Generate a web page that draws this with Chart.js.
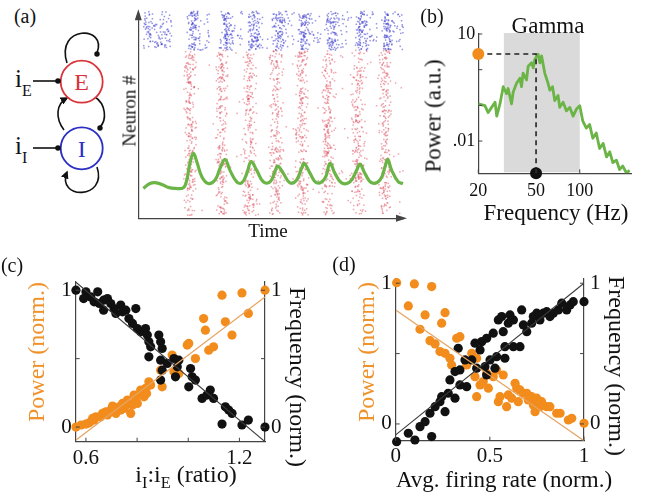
<!DOCTYPE html>
<html><head><meta charset="utf-8">
<script src="https://cdn.jsdelivr.net/npm/chart.js@4.4.0/dist/chart.umd.min.js"></script>
<style>
html,body{margin:0;padding:0;background:#fff;}
#fig{position:relative;width:651px;height:500px;overflow:hidden;font-family:"Liberation Serif","Times New Roman",serif;color:#111;}
canvas{position:absolute;}
.t{position:absolute;white-space:nowrap;line-height:1;transform:translate(-50%,-50%);}
.rl{transform:translate(-50%,-50%) rotate(-90deg);}
.rr{transform:translate(-50%,-50%) rotate(90deg);}
.sb{font-size:0.68em;position:relative;top:0.38em;}
</style></head>
<body>
<div id="fig">
  <svg width="130" height="240" style="position:absolute;left:0;top:0">
    <defs>
      <marker id="ah" viewBox="0 0 10 10" refX="8" refY="5" markerWidth="5" markerHeight="5" orient="auto">
        <path d="M0,0 L10,5 L0,10 z" fill="#111"/>
      </marker>
    </defs>
    <path d="M67,63 C55,25 108,25 97,53" fill="none" stroke="#111" stroke-width="1.6"/>
    <circle cx="97" cy="54" r="2.7" fill="#111"/>
    <path d="M64,130 C55,118 56,104 67,98" fill="none" stroke="#111" stroke-width="1.6" marker-end="url(#ah)"/>
    <path d="M95,97 C106,104 107,120 100,127" fill="none" stroke="#111" stroke-width="1.6"/>
    <circle cx="100" cy="128" r="2.7" fill="#111"/>
    <path d="M97,167 C108,200 56,200 67,172" fill="none" stroke="#111" stroke-width="1.6" marker-end="url(#ah)"/>
    <circle cx="81.7" cy="81.7" r="21" fill="#fff" stroke="#D9343A" stroke-width="1.8"/>
    <circle cx="81.7" cy="148.3" r="21" fill="#fff" stroke="#2B2FC4" stroke-width="1.8"/>
    <text x="81.7" y="90" font-family="Liberation Serif" font-size="24" fill="#D9343A" text-anchor="middle">E</text>
    <text x="81.7" y="157" font-family="Liberation Serif" font-size="24" fill="#2B2FC4" text-anchor="middle">I</text>
    <line x1="33" y1="81" x2="57" y2="81" stroke="#111" stroke-width="1.6"/>
    <circle cx="58" cy="81" r="2.8" fill="#111"/>
    <line x1="33" y1="148" x2="57" y2="148" stroke="#111" stroke-width="1.6"/>
    <circle cx="58" cy="148" r="2.8" fill="#111"/>
    <text x="15" y="87" font-family="Liberation Serif" font-size="25" fill="#111">i<tspan font-size="16" dy="9">E</tspan></text>
    <text x="15" y="154" font-family="Liberation Serif" font-size="25" fill="#111">i<tspan font-size="16" dy="9">I</tspan></text>
  </svg>

  <canvas id="cA" width="300" height="240" style="left:120px;top:0px;width:300px;height:240px"></canvas>
  <canvas id="cB" width="231" height="240" style="left:420px;top:0px;width:231px;height:240px"></canvas>
  <canvas id="cC" width="330" height="250" style="left:0px;top:250px;width:330px;height:250px"></canvas>
  <canvas id="cD" width="321" height="250" style="left:330px;top:250px;width:321px;height:250px"></canvas>

  <div class="t" style="left:25px;top:16px;font-size:20px">(a)</div>
  <div class="t" style="left:432px;top:16px;font-size:20px">(b)</div>
  <div class="t" style="left:12px;top:265px;font-size:20px">(c)</div>
  <div class="t" style="left:344px;top:264px;font-size:20px">(d)</div>

  <div class="t rl" style="left:129px;top:111px;font-size:19px">Neuron #</div>
  <div class="t" style="left:268px;top:230px;font-size:19px">Time</div>

  <div class="t" style="left:548px;top:25px;font-size:23px">Gamma</div>
  <div class="t rl" style="left:433px;top:116px;font-size:23px">Power (a.u.)</div>
  <div class="t" style="left:556px;top:212px;font-size:23px">Frequency (Hz)</div>

  <div class="t rl" style="left:36px;top:352px;font-size:24px;color:#F0922B">Power (norm.)</div>
  <div class="t rr" style="left:298px;top:377px;font-size:24px">Frequency (norm.)</div>
  <div class="t" style="left:186px;top:474px;font-size:24px">i<span class="sb">I</span>:i<span class="sb">E</span> (ratio)</div>

  <div class="t rl" style="left:366px;top:352px;font-size:24px;color:#F0922B">Power (norm.)</div>
  <div class="t rr" style="left:617px;top:366px;font-size:24px">Frequency (norm.)</div>
  <div class="t" style="left:504px;top:479px;font-size:23px">Avg. firing rate (norm.)</div>
</div>

<script>
// ---------------- DATA ----------------
// (a) raster: burst windows (time units) and neuron bands (%), LFP trace
const excBursts = [[17.6,21.4],[29.6,33.4],[39.7,44.1],[49.8,54.2],[59.8,63.6],[69.9,73.7],[80.6,85.6],[91.3,95.1]];
const inhBursts = [[18.8,22.8],[31.5,35.3],[41.6,45.3],[51.0,55.4],[61.1,64.9],[71.2,75.6],[82.5,86.3],[92.6,96.3]];
const inhPreCloud = [1.9, 12.6];
const onsetTime = 17;
const excBand = [1.5, 82];
const inhBand = [82, 101];
const lfpTime = [1.9,4.4,6.9,9.4,11.3,13.9,17.0,18.3,19.5,20.8,22.1,24.0,26.4,29.0,30.9,32.8,34.6,37.2,39.1,41.0,42.6,44.7,47.2,49.8,51.6,52.7,54.8,57.3,59.8,61.7,62.7,64.9,67.4,70.5,72.4,74.3,76.8,80.0,82.5,83.8,85.6,88.2,91.3,93.2,94.2,95.7,98.2,100];
const lfpValue = [14.6,17.0,17.3,16.2,15.1,14.6,14.9,18.7,26.8,31.7,27.6,20.3,17.0,18.7,24.4,28.7,23.5,17.8,17.3,21.9,27.6,23.5,17.8,17.8,22.7,25.5,21.9,17.3,18.7,24.4,26.8,21.9,17.3,19.5,26.8,21.9,17.3,17.8,23.5,26.4,21.9,17.3,18.7,25.0,28.7,23.5,17.8,17.0];

// (b) power spectrum
const specFreq = [20,22.2,23.4,24.7,26.1,26.8,28.2,29.7,31.3,32.1,33.9,34.8,36.7,38.7,39.7,40.7,43.0,44.1,46.6,47.8,49.0,51.6,53.1,54.6,57.4,60.5,62.2,64.9,67.3,70.9,72.8,76.8,81.0,85.3,90.0,94.9,100,105,111,117,123,130,137,145,153,161,169,179,188,198,209,221];
const specPower = [0.110,0.098,0.063,0.088,0.123,0.050,0.110,0.333,0.213,0.297,0.110,0.238,0.414,0.577,0.333,0.804,0.516,1.25,1.56,1.12,1.94,2.71,1.56,2.43,0.804,0.414,0.265,0.333,0.137,0.19,0.088,0.123,0.070,0.088,0.050,0.079,0.098,0.036,0.023,0.029,0.012,0.0168,0.0062,0.0086,0.0036,0.005,0.0025,0.0029,0.0016,0.0020,0.0013,0.0015];
const gammaBand = [30, 100];
const peakFreq = 50;
const peakPower = 2.75;
const specXRange = [20, 228];
const specYRange = [0.00125, 10];
const specXTicks = [20, 50, 100];
const specXTickLabels = ['20', '50', '100'];
const specYTicks = [0.01, 0.1, 1, 10];
const specYTickLabels = ['.01', '', '', '10'];

// (c) vs i_I:i_E ratio
const cPowX = [0.561,0.581,0.600,0.613,0.632,0.639,0.658,0.665,0.678,0.697,0.704,0.717,0.730,0.743,0.749,0.762,0.775,0.782,0.795,0.807,0.814,0.827,0.837,0.846,0.853,0.892,0.898,0.937,0.944,0.963,0.996,1.002,1.028,1.060,1.067,1.080,1.099,1.132,1.145,1.171,1.210,1.235,1.300,0.626,0.684,0.736,0.756,0.788,0.801,0.833];
const cPowY = [0.000,0.015,0.022,0.031,0.051,0.075,0.075,0.100,0.112,0.124,0.153,0.100,0.148,0.173,0.136,0.197,0.100,0.161,0.185,0.234,0.270,0.221,0.246,0.331,0.307,0.416,0.294,0.526,0.404,0.392,0.599,0.611,0.501,0.793,0.708,0.562,0.586,0.964,0.769,0.672,0.980,0.830,1.000,0.063,0.088,0.124,0.161,0.234,0.173,0.282];
const cFreqX = [0.561,0.600,0.591,0.619,0.646,0.632,0.652,0.669,0.684,0.669,0.697,0.710,0.717,0.736,0.743,0.756,0.768,0.782,0.795,0.801,0.814,0.833,0.840,0.846,0.853,0.846,0.885,0.892,0.898,0.892,0.898,0.892,0.918,0.944,0.957,0.950,0.963,1.009,1.015,1.002,1.028,1.054,1.086,1.073,1.099,1.145,1.158,1.171,1.132,1.210,1.235,1.300];
const cFreqY = [1.000,0.988,0.939,0.951,0.988,0.915,0.903,0.927,0.939,0.854,0.903,0.866,0.830,0.891,0.842,0.854,0.793,0.757,0.866,0.720,0.696,0.720,0.672,0.623,0.586,0.513,0.672,0.623,0.574,0.489,0.416,0.343,0.465,0.501,0.440,0.367,0.489,0.428,0.367,0.294,0.343,0.209,0.270,0.234,0.209,0.148,0.124,0.100,0.022,0.015,0.051,0.000];
const cXRange = [0.56, 1.30];
const cYRange = [-0.107, 1.06];
const cPowFit = [[0.56,-0.097],[1.30,0.951]];
const cFreqFit = [[0.56,1.06],[1.30,-0.107]];
const cXTicks = [0.6, 0.8, 1.0, 1.2];
const cXTickLabels = ['0.6', '', '', '1.2'];

// (d) vs average firing rate
const dPowX = [0.005,0.099,0.191,0.067,0.156,0.262,0.244,0.129,0.182,0.209,0.235,0.262,0.288,0.297,0.324,0.341,0.377,0.404,0.430,0.421,0.448,0.430,0.465,0.483,0.492,0.518,0.536,0.545,0.571,0.554,0.598,0.589,0.616,0.634,0.643,0.651,0.660,0.678,0.696,0.704,0.722,0.731,0.740,0.749,0.766,0.775,0.802,0.819,0.855,0.873,0.917,0.935,1.000];
const dPowY = [1.004,0.995,0.976,0.839,0.775,0.791,0.716,0.673,0.592,0.569,0.514,0.502,0.467,0.419,0.609,0.620,0.419,0.502,0.467,0.336,0.277,0.194,0.301,0.360,0.254,0.336,0.384,0.158,0.348,0.194,0.206,0.123,0.183,0.289,0.254,0.158,0.242,0.218,0.218,0.171,0.194,0.135,0.087,0.183,0.123,0.158,0.123,0.123,0.076,0.076,0.028,0.040,0.005];
const dFreqX = [0.005,0.067,0.102,0.129,0.156,0.191,0.182,0.209,0.235,0.262,0.244,0.279,0.315,0.288,0.315,0.341,0.341,0.377,0.332,0.368,0.404,0.430,0.421,0.448,0.457,0.483,0.474,0.483,0.501,0.518,0.527,0.536,0.545,0.563,0.571,0.580,0.580,0.598,0.607,0.625,0.625,0.660,0.669,0.678,0.696,0.722,0.731,0.749,0.766,0.784,0.802,0.819,0.837,0.864,0.882,0.908,0.926,0.943,1.000];
const dFreqY = [-0.126,-0.066,-0.114,-0.019,0.016,-0.090,0.076,0.123,0.158,0.087,0.194,0.218,0.183,0.313,0.372,0.384,0.277,0.265,0.538,0.455,0.455,0.396,0.574,0.526,0.585,0.609,0.407,0.348,0.455,0.645,0.396,0.478,0.739,0.763,0.656,0.467,0.549,0.716,0.775,0.739,0.549,0.549,0.810,0.704,0.656,0.716,0.763,0.787,0.739,0.787,0.798,0.763,0.787,0.810,0.858,0.810,0.846,0.869,0.869];
const dXRange = [0, 1];
const dYRange = [-0.119, 1.03];
const dPowFit = [[0,0.81],[1,-0.119]];
const dFreqFit = [[0,-0.078],[1,1.0]];
const dXTicks = [0, 0.5, 1];
const dXTickLabels = ['0', '0.5', '1'];

const normYTicks = [0, 0.5, 1];
const normYTickLabels = ['0', '', '1'];

// ---------------- STYLE ----------------
const ORANGE = '#F28C1C';
const GREEN = '#6BB446';
const BLACK = '#111111';
const AXIS = '#444444';
const RED_DOT = 'rgba(222,80,95,0.5)';
const BLUE_DOT = 'rgba(62,62,205,0.55)';
const SERIF = '"Liberation Serif","Times New Roman",serif';

Chart.defaults.font.family = SERIF;
Chart.defaults.color = BLACK;

const pts = (xs, ys) => xs.map((v, i) => ({x: v, y: ys[i]}));
const pairs = arr => arr.map(p => ({x: p[0], y: p[1]}));

// deterministic texture generator for raster spray (styling only)
function texRand(seed) {
  let s = (seed * 2654435761) >>> 0 || 1;
  return () => { s = (Math.imul(s, 1664525) + 1013904223) >>> 0; return s / 4294967296; };
}
function spray(ctx, xs, ys, t0, t1, n0, n1, count, color, seed, peaked) {
  const r = texRand(seed);
  ctx.fillStyle = color;
  for (let i = 0; i < count; i++) {
    const u = peaked ? (r() + r()) / 2 : r();
    const px = xs.getPixelForValue(t0 + u * (t1 - t0));
    const py = ys.getPixelForValue(n0 + r() * (n1 - n0));
    ctx.fillRect(px - 0.7, py - 0.7, 1.5, 1.5);
  }
}

const rasterPlugin = {
  id: 'raster',
  beforeDatasetsDraw(chart) {
    const {ctx, scales: {x, y}} = chart;
    ctx.save();
    spray(ctx, x, y, onsetTime, 100, excBand[0], excBand[1], 110, RED_DOT, 11, false);
    spray(ctx, x, y, onsetTime, 100, inhBand[0], inhBand[1], 30, BLUE_DOT, 12, false);
    spray(ctx, x, y, inhPreCloud[0], inhPreCloud[1], inhBand[0] + 1, inhBand[1], 110, BLUE_DOT, 13, false);
    excBursts.forEach((b, i) => spray(ctx, x, y, b[0] - 0.8, b[1] + 0.8, excBand[0], excBand[1], 230, RED_DOT, 100 + i, true));
    inhBursts.forEach((b, i) => {
      spray(ctx, x, y, b[0] - 0.8, b[1] + 0.8, inhBand[0], inhBand[1], 90, BLUE_DOT, 200 + i, true);
      spray(ctx, x, y, b[1], b[1] + 4, inhBand[0], inhBand[1], 16, BLUE_DOT, 300 + i, false);
    });
    ctx.restore();
  }
};

const arrowPlugin = {
  id: 'arrows',
  afterDraw(chart) {
    const {ctx, chartArea: a} = chart;
    ctx.save();
    ctx.fillStyle = AXIS;
    ctx.beginPath();
    ctx.moveTo(a.right + 4, a.bottom); ctx.lineTo(a.right - 7, a.bottom - 3.5); ctx.lineTo(a.right - 7, a.bottom + 3.5); ctx.closePath(); ctx.fill();
    ctx.beginPath();
    ctx.moveTo(a.left, a.top - 4); ctx.lineTo(a.left - 3.5, a.top + 7); ctx.lineTo(a.left + 3.5, a.top + 7); ctx.closePath(); ctx.fill();
    ctx.restore();
  }
};

const inwardTicks = {
  id: 'inwardTicks',
  afterDraw(chart, args, opts) {
    const ctx = chart.ctx;
    ctx.save();
    ctx.strokeStyle = AXIS; ctx.lineWidth = 1;
    const axes = opts.axes || {};
    Object.keys(axes).forEach(id => {
      const s = chart.scales[id];
      axes[id].forEach(v => {
        const p = s.getPixelForValue(v);
        ctx.beginPath();
        if (s.isHorizontal()) { ctx.moveTo(p, s.top); ctx.lineTo(p, s.top - 4); }
        else if (s.position === 'left') { ctx.moveTo(s.right, p); ctx.lineTo(s.right + 4, p); }
        else { ctx.moveTo(s.left, p); ctx.lineTo(s.left - 4, p); }
        ctx.stroke();
      });
    });
    ctx.restore();
  }
};

const bandPlugin = {
  id: 'band',
  beforeDatasetsDraw(chart) {
    const {ctx, chartArea: a, scales: {x}} = chart;
    const x0 = x.getPixelForValue(gammaBand[0]), x1 = x.getPixelForValue(gammaBand[1]);
    ctx.save();
    ctx.fillStyle = '#DADADA';
    ctx.fillRect(x0, a.top - 1, x1 - x0, a.bottom - a.top);
    ctx.restore();
  }
};

const baseOpts = {
  responsive: false, animation: false, devicePixelRatio: 1,
  events: [],
};
const noGrid = {display: false, drawTicks: false};
const border = {color: AXIS, width: 1.2};

// ---------------- (a) ----------------
new Chart(document.getElementById('cA'), {
  type: 'line',
  data: {datasets: [{
    label: 'LFP', data: pts(lfpTime, lfpValue), borderColor: GREEN, borderWidth: 3.2,
    pointRadius: 0, tension: 0.42, clip: false
  }]},
  options: Object.assign({}, baseOpts, {
    layout: {padding: {top: 13.3, right: 17, left: 0, bottom: 0}},
    plugins: {legend: {display: false}, tooltip: {enabled: false}},
    scales: {
      x: {type: 'linear', min: 0, max: 100, grid: noGrid, ticks: {display: false}, border: border,
          afterFit: s => { s.height = 21.7; }},
      y: {type: 'linear', min: 0, max: 100, grid: noGrid, ticks: {display: false}, border: border,
          afterFit: s => { s.width = 18.3; }}
    }
  }),
  plugins: [rasterPlugin, arrowPlugin]
});

// ---------------- (b) ----------------
new Chart(document.getElementById('cB'), {
  type: 'line',
  data: {datasets: [
    {label: 'peak power', data: [{x: specXRange[0], y: peakPower}], showLine: false, pointRadius: 6,
     pointBackgroundColor: ORANGE, pointBorderWidth: 0, clip: false},
    {label: 'peak freq', data: [{x: peakFreq, y: specYRange[0]}], showLine: false, pointRadius: 6,
     pointBackgroundColor: BLACK, pointBorderWidth: 0, clip: false},
    {label: 'guide', data: [{x: specXRange[0], y: peakPower}, {x: peakFreq, y: peakPower}, {x: peakFreq, y: specYRange[0]}],
     borderColor: '#222', borderWidth: 1.6, borderDash: [5, 4], pointRadius: 0, tension: 0},
    {label: 'spectrum', data: pts(specFreq, specPower), borderColor: GREEN, borderWidth: 2.8,
     pointRadius: 0, tension: 0, borderJoinStyle: 'round'}
  ]},
  options: Object.assign({}, baseOpts, {
    layout: {padding: {top: 34, right: 19.3, left: 0, bottom: 0}},
    plugins: {legend: {display: false}, tooltip: {enabled: false},
      inwardTicks: {axes: {x: specXTicks, y: specYTicks}}},
    scales: {
      x: {type: 'logarithmic', min: specXRange[0], max: specXRange[1], grid: noGrid, border: border,
          afterBuildTicks: s => { s.ticks = specXTicks.map(v => ({value: v})); },
          ticks: {autoSkip: false, maxRotation: 0, minRotation: 0, padding: 7, font: {size: 18},
                  callback: (v, i) => specXTickLabels[i]},
          afterFit: s => { s.height = 66.7; }},
      y: {type: 'logarithmic', min: specYRange[0], max: specYRange[1], grid: noGrid, border: border,
          afterBuildTicks: s => { s.ticks = specYTicks.map(v => ({value: v})); },
          ticks: {autoSkip: false, padding: 3, font: {size: 18}, callback: (v, i) => specYTickLabels[i]},
          afterFit: s => { s.width = 58.3; }}
    }
  }),
  plugins: [bandPlugin, inwardTicks]
});

// ---------------- (c) & (d) ----------------
function normChart(id, cfg) {
  return new Chart(document.getElementById(id), {
    type: 'scatter',
    data: {datasets: [
      {label: 'Frequency fit', data: pairs(cfg.freqFit), yAxisID: 'y2', showLine: true, borderColor: '#3a3a3a',
       borderWidth: 1.1, pointRadius: 0},
      {label: 'Power fit', data: pairs(cfg.powFit), yAxisID: 'y', showLine: true, borderColor: '#E6A461',
       borderWidth: 1.3, pointRadius: 0},
      {label: 'Frequency', data: pts(cfg.freqX, cfg.freqY), yAxisID: 'y2', pointRadius: 4.6,
       pointBackgroundColor: BLACK, pointBorderWidth: 0, clip: false},
      {label: 'Power', data: pts(cfg.powX, cfg.powY), yAxisID: 'y', pointRadius: 4.6,
       pointBackgroundColor: ORANGE, pointBorderWidth: 0, clip: false}
    ]},
    options: Object.assign({}, baseOpts, {
      layout: {padding: {top: cfg.top, right: 0, left: 0, bottom: 0}},
      plugins: {legend: {display: false}, tooltip: {enabled: false},
        inwardTicks: {axes: {x: cfg.xTicks, y: normYTicks, y2: normYTicks}}},
      scales: {
        x: {type: 'linear', min: cfg.xRange[0], max: cfg.xRange[1], grid: noGrid, border: border,
            afterBuildTicks: s => { s.ticks = cfg.xTicks.map(v => ({value: v})); },
            ticks: {autoSkip: false, maxRotation: 0, minRotation: 0, padding: cfg.xPad, font: {size: 21},
                    callback: (v, i) => cfg.xTickLabels[i]},
            afterFit: s => { s.height = cfg.bottomH; }},
        y: {type: 'linear', position: 'left', min: cfg.yRange[0], max: cfg.yRange[1], grid: noGrid, border: border,
            afterBuildTicks: s => { s.ticks = normYTicks.map(v => ({value: v})); },
            ticks: {autoSkip: false, padding: 4, font: {size: 21}, callback: (v, i) => normYTickLabels[i]},
            afterFit: s => { s.width = cfg.leftW; }},
        y2: {type: 'linear', position: 'right', min: cfg.yRange[0], max: cfg.yRange[1], grid: noGrid, border: border,
            afterBuildTicks: s => { s.ticks = normYTicks.map(v => ({value: v})); },
            ticks: {autoSkip: false, padding: 6, font: {size: 21}, callback: (v, i) => normYTickLabels[i]},
            afterFit: s => { s.width = cfg.rightW; }}
      }
    }),
    plugins: [inwardTicks]
  });
}

normChart('cC', {
  powX: cPowX, powY: cPowY, freqX: cFreqX, freqY: cFreqY, powFit: cPowFit, freqFit: cFreqFit,
  xRange: cXRange, yRange: cYRange, xTicks: cXTicks, xTickLabels: cXTickLabels,
  top: 32, bottomH: 58.3, leftW: 75.7, rightW: 65, xPad: 4
});
normChart('cD', {
  powX: dPowX, powY: dPowY, freqX: dFreqX, freqY: dFreqY, powFit: dPowFit, freqFit: dFreqFit,
  xRange: dXRange, yRange: dYRange, xTicks: dXTicks, xTickLabels: dXTickLabels,
  top: 29, bottomH: 59.3, leftW: 65.7, rightW: 67, xPad: 3
});
</script>
</body></html>
